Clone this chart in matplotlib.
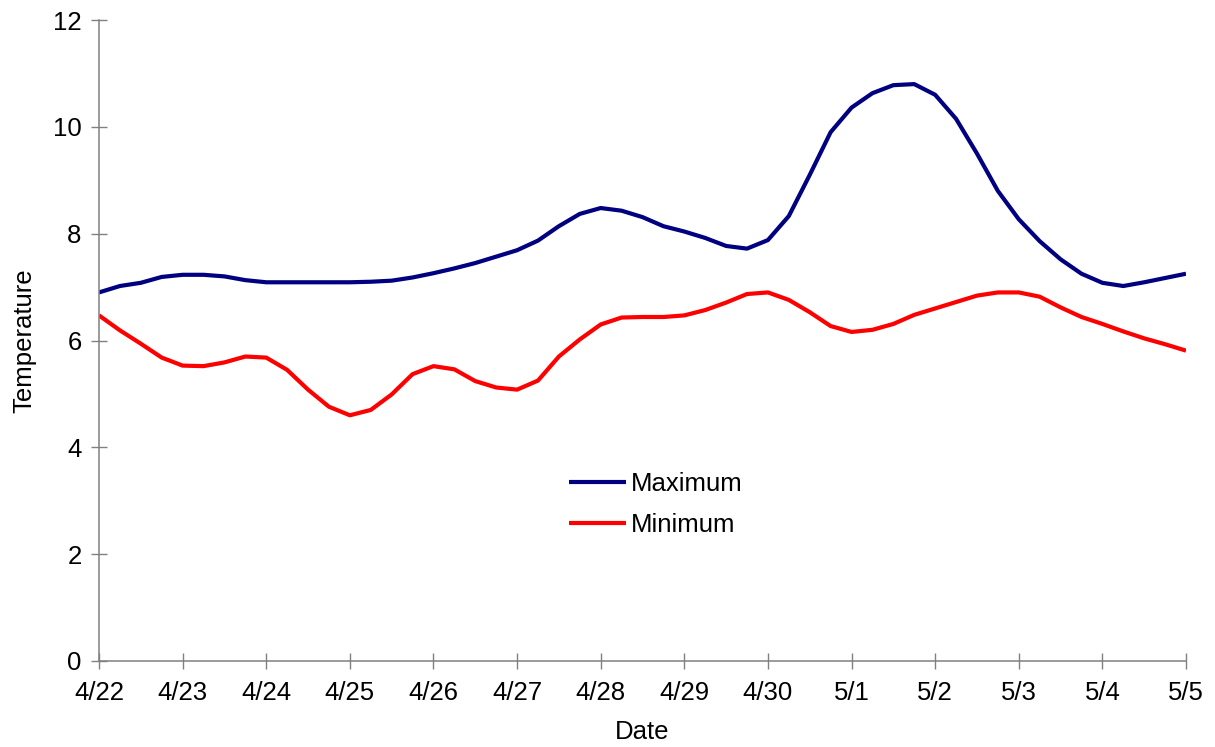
import matplotlib
matplotlib.use("Agg")
import matplotlib.pyplot as plt
import matplotlib.dates as mdates
import pandas as pd

plt.rcParams['font.family'] = ['Liberation Sans', 'DejaVu Sans']

# Six-hourly readings, 22 April to 5 May
times = pd.date_range('2003-04-22 00:00', '2003-05-05 00:00', freq='6h')

maximum = [6.90, 7.02, 7.08, 7.19, 7.23, 7.23, 7.20, 7.13, 7.09, 7.09,
           7.09, 7.09, 7.09, 7.10, 7.12, 7.18, 7.26, 7.35, 7.45, 7.57,
           7.69, 7.87, 8.14, 8.37, 8.48, 8.43, 8.31, 8.14, 8.04, 7.92,
           7.77, 7.72, 7.88, 8.33, 9.10, 9.90, 10.36, 10.63, 10.78, 10.80,
           10.60, 10.15, 9.50, 8.80, 8.27, 7.86, 7.52, 7.25, 7.08, 7.02,
           7.09, 7.17, 7.25]

minimum = [6.47, 6.19, 5.94, 5.68, 5.53, 5.52, 5.59, 5.70, 5.68, 5.45,
           5.08, 4.76, 4.60, 4.70, 4.99, 5.37, 5.52, 5.46, 5.24, 5.12,
           5.08, 5.25, 5.70, 6.02, 6.30, 6.43, 6.44, 6.44, 6.47, 6.57,
           6.71, 6.87, 6.90, 6.76, 6.53, 6.27, 6.16, 6.20, 6.31, 6.48,
           6.60, 6.72, 6.84, 6.90, 6.90, 6.82, 6.62, 6.44, 6.31, 6.17,
           6.04, 5.93, 5.81]

series_names = ['Maximum', 'Minimum']
series_colors = ['#000080', '#FF0000']
y_ticks = [0, 2, 4, 6, 8, 10, 12]

fig = plt.figure(figsize=(12.15, 7.47), dpi=100)
ax = fig.add_axes([99 / 1215, 1 - 661 / 747, (1186 - 99) / 1215, (661 - 20) / 747])

for values, name, color in zip([maximum, minimum], series_names, series_colors):
    ax.plot(times, values, color=color, lw=3.0, label=name,
            solid_joinstyle='round', solid_capstyle='butt')

ax.set_xlim(times[0], times[-1])
ax.set_ylim(0, 12)
ax.set_yticks(y_ticks)
ax.xaxis.set_major_locator(mdates.DayLocator())
ax.xaxis.set_major_formatter(
    plt.FuncFormatter(lambda v, _: f"{mdates.num2date(v).month}/{mdates.num2date(v).day}"))

for side in ('top', 'right'):
    ax.spines[side].set_visible(False)
for side in ('left', 'bottom'):
    ax.spines[side].set_color('#808080')
    ax.spines[side].set_linewidth(1.1)

ax.tick_params(direction='inout', length=11, width=1.0, color='#808080',
               labelsize=18.5, labelcolor='black')
ax.tick_params(axis='y', pad=7)
ax.tick_params(axis='x', pad=9)

ax.set_xlabel('Date', fontsize=18.5, labelpad=11)
ax.set_ylabel('Temperature', fontsize=18.5, labelpad=12)

ax.legend(loc='upper left', bbox_to_anchor=(569 / 1215, 1 - 472 / 747),
          bbox_transform=fig.transFigure, frameon=False, fontsize=18.5,
          handlelength=2.2, handletextpad=0.2, labelspacing=0.68,
          borderaxespad=0, borderpad=0)

fig.savefig('out.png', dpi=100, facecolor='white')
